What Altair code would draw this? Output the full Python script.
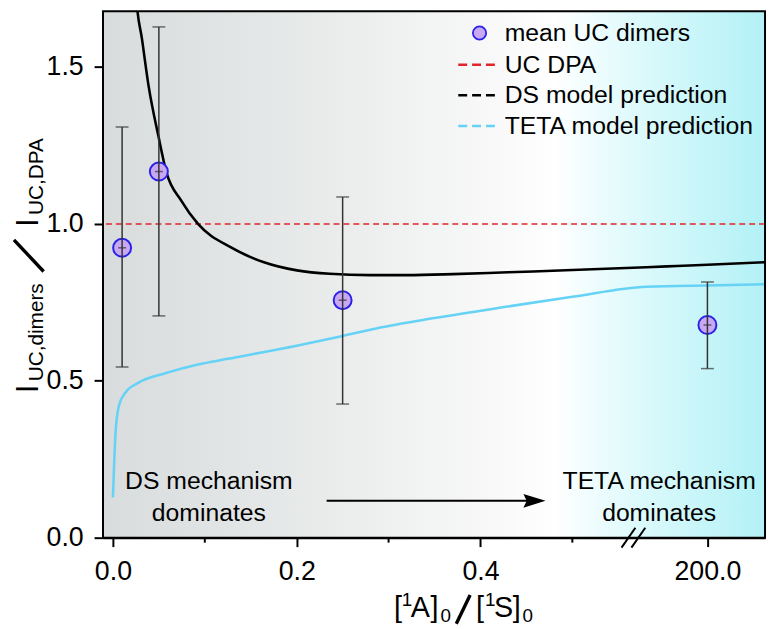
import altair as alt
import pandas as pd

# ---------------- data ----------------
pt_x = [0.01, 0.05, 0.25, 200.0]
pt_mean = [0.924, 1.167, 0.757, 0.678]
pt_lo = [0.544, 0.707, 0.426, 0.539]
pt_hi = [1.309, 1.628, 1.086, 0.815]

ds_x = [0.0245, 0.026, 0.0316, 0.0388, 0.0495, 0.058, 0.0747, 0.0926, 0.1285, 0.1644,
        0.2003, 0.236, 0.28, 0.32, 0.37, 0.43, 0.5, 0.5805, 190.0, 200.0, 219.0]
ds_y = [1.76, 1.70, 1.59, 1.44, 1.28, 1.167, 1.073, 1.0, 0.925, 0.878,
        0.852, 0.841, 0.837, 0.837, 0.840, 0.846, 0.853, 0.862, 0.866, 0.870, 0.878]

teta_x = [0.0, 0.0029, 0.0065, 0.0137, 0.028, 0.0568, 0.0926, 0.125, 0.2, 0.25,
          0.2865, 0.35, 0.43, 0.5, 0.5805, 190.0, 200.0, 219.0]
teta_y = [0.128, 0.337, 0.42, 0.463, 0.494, 0.524, 0.552, 0.57, 0.612, 0.643,
          0.667, 0.700, 0.737, 0.768, 0.80, 0.802, 0.804, 0.808]

uc_dpa = [1.0]

x_ticks = [0.0, 0.2, 0.4, 200.0]
x_tick_labels = ["0.0", "0.2", "0.4", "200.0"]
x_minor = [0.1, 0.3, 0.5]
y_ticks = [0.0, 0.5, 1.0, 1.5]

legend_labels = ["mean UC dimers", "UC DPA", "DS model prediction", "TETA model prediction"]

# ---------------- broken x axis mapping ----------------
SEG1_END = 0.5805
SEG2_START = 180.0
SEG2_SCALE = 0.003325


def to_disp(v):
    return v if v <= SEG1_END + 1e-9 else SEG1_END + (v - SEG2_START) * SEG2_SCALE


W, H = 669, 532
FONT = "Liberation Sans"
xscale = alt.Scale(domain=[-0.0108, 0.7097], nice=False, zero=False)
yscale = alt.Scale(domain=[0, 1.678], nice=False, zero=False)

tick_disp = [to_disp(v) for v in x_ticks]
expr = "''"
for d, lab in zip(reversed(tick_disp), reversed(x_tick_labels)):
    expr = f"abs(datum.value - {d}) < 1e-6 ? '{lab}' : ({expr})"

axis_common = dict(domainColor="black", domainWidth=2, tickColor="black", tickWidth=2,
                   tickSize=9, labelFont=FONT, labelFontSize=27, labelColor="black",
                   grid=False, title=None)
xaxis = alt.Axis(values=tick_disp, labelExpr=expr, labelPadding=12, **axis_common)
yaxis = alt.Axis(values=y_ticks, format=".1f", labelPadding=11, **axis_common)

pts = pd.DataFrame({"d": [to_disp(v) for v in pt_x], "mean": pt_mean, "lo": pt_lo, "hi": pt_hi})
ds = pd.DataFrame({"d": [to_disp(v) for v in ds_x], "y": ds_y})
teta = pd.DataFrame({"d": [to_disp(v) for v in teta_x], "y": teta_y})
minor = pd.DataFrame({"d": x_minor})
one = pd.DataFrame({"a": [0]})

X = alt.X("d:Q", scale=xscale, axis=xaxis)

gradient = alt.LinearGradient(
    gradient="linear", x1=0, x2=1, y1=0, y2=0,
    stops=[alt.GradientStop(color="#d8dcdc", offset=0.0),
           alt.GradientStop(color="#eaecec", offset=0.35),
           alt.GradientStop(color="#f9f9f9", offset=0.6),
           alt.GradientStop(color="#ffffff", offset=0.68),
           alt.GradientStop(color="#dffafc", offset=0.8),
           alt.GradientStop(color="#b2f1f6", offset=1.0)])

bg = alt.Chart(one).mark_rect(fill=gradient).encode(
    x=alt.value(0), x2=alt.value(W), y=alt.value(0), y2=alt.value(H))

red = alt.Chart(pd.DataFrame({"y": uc_dpa})).mark_rule(
    color="#e0262b", strokeDash=[6, 4], strokeWidth=1.4).encode(
    y=alt.Y("y:Q", scale=yscale, axis=yaxis))

ds_line = alt.Chart(ds).mark_line(color="black", strokeWidth=2.6, clip=True,
                                  interpolate="monotone").encode(
    x=X, y=alt.Y("y:Q", scale=yscale, axis=yaxis))

teta_line = alt.Chart(teta).mark_line(color="#66d3f6", strokeWidth=2.6, clip=True,
                                      interpolate="monotone").encode(
    x=X, y=alt.Y("y:Q", scale=yscale, axis=yaxis))

circles = alt.Chart(pts).mark_circle(size=330, color="#c8a8f2", stroke="#2b22e8",
                                     strokeWidth=2, opacity=1).encode(
    x=X, y=alt.Y("mean:Q", scale=yscale, axis=yaxis))

bars = alt.Chart(pts).mark_rule(color="#333333", strokeWidth=1.5).encode(
    x=X, y=alt.Y("lo:Q", scale=yscale, axis=yaxis), y2="hi:Q")
cap_lo = alt.Chart(pts).mark_tick(color="#333333", orient="horizontal", size=13,
                                  thickness=1.5).encode(x=X, y=alt.Y("lo:Q", scale=yscale))
cap_hi = alt.Chart(pts).mark_tick(color="#333333", orient="horizontal", size=13,
                                  thickness=1.5).encode(x=X, y=alt.Y("hi:Q", scale=yscale))
cap_mid = alt.Chart(pts).mark_tick(color="#333333", orient="horizontal", size=8,
                                   thickness=1.5).encode(x=X, y=alt.Y("mean:Q", scale=yscale))

minor_ticks = alt.Chart(minor).mark_rule(color="black", strokeWidth=2).encode(
    x=X, y=alt.value(H), y2=alt.value(H + 5))


def seg(x1, y1, x2, y2, w=2.0, color="black"):
    return alt.Chart(one).mark_rule(color=color, strokeWidth=w).encode(
        x=alt.value(x1), y=alt.value(y1), x2=alt.value(x2), y2=alt.value(y2))


brk = [seg(524, H + 10, 538, H - 10), seg(534, H + 10, 548, H - 10)]

frame = alt.Chart(one).mark_rect(fillOpacity=0, stroke="black", strokeWidth=2).encode(
    x=alt.value(0), x2=alt.value(W), y=alt.value(0), y2=alt.value(H))


def txt(s, x, y, size, align="left", baseline="alphabetic", angle=0):
    kw = dict(text=s, font=FONT, fontSize=size, align=align, baseline=baseline,
              color="black")
    if angle:
        kw["angle"] = angle
    return alt.Chart(one).mark_text(**kw).encode(x=alt.value(x), y=alt.value(y))


# legend
rows = [22, 54, 85, 116]
leg = [alt.Chart(one).mark_circle(size=180, color="#c8a8f2", stroke="#2b22e8",
                                  strokeWidth=1.8, opacity=1).encode(
    x=alt.value(380.5), y=alt.value(rows[0]))]
for ry, col in zip(rows[1:], ["#e0262b", "black", "#66d3f6"]):
    leg.append(alt.Chart(one).mark_rule(color=col, strokeWidth=2.5, strokeDash=[9, 5]).encode(
        x=alt.value(359), x2=alt.value(396), y=alt.value(ry)))
for ry, lab in zip(rows, legend_labels):
    leg.append(txt(lab, 406, ry, 25, baseline="middle"))

# annotations
ann = [txt("DS mechanism", 107, 475, 25, align="center", baseline="middle"),
       txt("dominates", 107, 507, 25, align="center", baseline="middle"),
       txt("TETA mechanism", 562, 475, 25, align="center", baseline="middle"),
       txt("dominates", 562, 507, 25, align="center", baseline="middle")]
arrow = [seg(226, 494.7, 430, 494.7),
         alt.Chart(one).mark_point(shape="M-1,-0.62L1,0L-1,0.62L-0.7,0Z", size=500, filled=True,
                                   color="black", opacity=1).encode(
             x=alt.value(436), y=alt.value(494.7))]

# x title  [1A]0 / [1S]0
xt = [txt("[", 294, 612, 29), txt("1", 302, 601, 19), txt("A", 311, 612, 29),
      txt("]", 331, 612, 29), txt("0", 341, 617, 19), seg(357, 619, 371, 590, 3.4),
      txt("[", 377, 612, 29), txt("1", 386, 601, 19), txt("S", 395, 612, 29),
      txt("]", 414, 612, 29), txt("0", 424, 617, 19)]

# y title  I_UC,dimers / I_UC,DPA (rotated)
yt = [txt("I", -66, 386, 32, angle=270), txt("UC,dimers", -61, 374, 21, angle=270),
      seg(-60, 263, -90, 231, 3.4),
      txt("I", -66, 218, 32, angle=270), txt("UC,DPA", -61, 206, 21, angle=270)]

chart = alt.layer(bg, red, ds_line, teta_line, circles, bars, cap_lo, cap_hi, cap_mid,
                  minor_ticks, *brk, frame, *leg, *ann, *arrow, *xt, *yt).properties(
    width=W, height=H,
    autosize=alt.AutoSizeParams(type="none"),
    padding={"left": 96, "top": 0, "right": 3, "bottom": 89},
).configure_view(stroke=None).configure(background="white")

chart.save("out.html", embed_options={"renderer": "svg", "actions": False})
